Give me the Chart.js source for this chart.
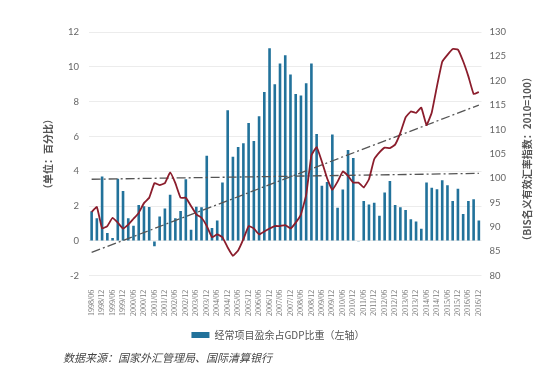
<!DOCTYPE html>
<html>
<head>
<meta charset="utf-8">
<script src="https://cdn.jsdelivr.net/npm/chart.js@4/dist/chart.umd.min.js"></script>
<style>
  body { margin: 0; background: #fff; }
  #wrap { position: relative; width: 560px; height: 374px; }
  #source {
    position: absolute; left: 63px; top: 349px;
    font: italic 11px "Noto Sans CJK SC", sans-serif; color: #444;
  }
</style>
</head>
<body>
<div id="wrap">
  <canvas id="chart" width="560" height="374"></canvas>
  <div id="source">数据来源：国家外汇管理局、国际清算银行</div>
</div>
<script>
// quarterly categories, only /06 and /12 get a label
const quarters = [
  "1998/06", "1998/09", "1998/12",
  "1999/03", "1999/06", "1999/09", "1999/12",
  "2000/03", "2000/06", "2000/09", "2000/12",
  "2001/03", "2001/06", "2001/09", "2001/12",
  "2002/03", "2002/06", "2002/09", "2002/12",
  "2003/03", "2003/06", "2003/09", "2003/12",
  "2004/03", "2004/06", "2004/09", "2004/12",
  "2005/03", "2005/06", "2005/09", "2005/12",
  "2006/03", "2006/06", "2006/09", "2006/12",
  "2007/03", "2007/06", "2007/09", "2007/12",
  "2008/03", "2008/06", "2008/09", "2008/12",
  "2009/03", "2009/06", "2009/09", "2009/12",
  "2010/03", "2010/06", "2010/09", "2010/12",
  "2011/03", "2011/06", "2011/09", "2011/12",
  "2012/03", "2012/06", "2012/09", "2012/12",
  "2013/03", "2013/06", "2013/09", "2013/12",
  "2014/03", "2014/06", "2014/09", "2014/12",
  "2015/03", "2015/06", "2015/09", "2015/12",
  "2016/03", "2016/06", "2016/09", "2016/12"
];

// current account surplus, % of GDP (left axis)
const surplusPct = [
  1.7, 1.3, 3.7,
  0.45, 0.17, 3.57, 2.87,
  1.3, 0.87, 2.06, 2.0,
  1.95, -0.3, 1.4, 1.87,
  2.66, 1.3, 1.72, 3.55,
  0.64, 1.97, 1.93, 4.9,
  0.74, 1.17, 3.36, 7.5,
  4.84, 5.4, 5.61, 6.78,
  5.74, 7.16, 8.55, 11.07,
  9.0, 10.19, 10.66, 9.56,
  8.44, 8.36, 9.05, 10.19,
  6.14, 3.17, 3.38, 6.12,
  1.91, 2.95, 5.22, 4.77,
  -0.05, 2.3, 2.1, 2.2,
  1.45, 2.78, 3.44, 2.06,
  1.93, 1.78, 1.25, 1.12,
  0.7, 3.36, 3.06, 2.97,
  3.48, 3.2, 2.3, 3.0,
  1.55, 2.3, 2.4, 1.17
];

// BIS nominal effective exchange rate, 2010=100 (right axis)
const neer = [
  93.1, 94.1, 89.7,
  90.2, 91.9, 90.9, 89.7,
  90.5, 91.7, 92.9, 94.9,
  96.0, 99.0, 98.6, 99.0,
  101.2, 99.0, 96.0, 96.0,
  94.3, 92.6, 91.9, 90.2,
  87.9, 88.5, 87.9, 85.8,
  84.1, 85.2, 87.5, 90.2,
  89.7, 88.5, 89.1, 89.7,
  90.2, 90.2, 90.4, 89.7,
  90.9, 92.6, 96.6, 104.7,
  106.4, 103.4, 100.0, 97.6,
  99.3, 101.4, 100.5, 99.1,
  99.1, 98.1, 99.8, 103.9,
  105.3, 106.3, 106.2, 106.9,
  109.3, 112.5, 113.7, 113.4,
  114.5, 110.9, 113.5, 118.9,
  123.9, 125.3, 126.5, 126.4,
  124.0, 120.9, 117.3, 117.7
];

// trend lines on right axis: [start, end]
const trendFlat = [99.8, 101.0];
const trendRise = [84.8, 115.0];

const barLabel = "经常项目盈余占GDP比重（左轴）";
const leftTitle = "（单位：百分比）";
const rightTitle = "（BIS名义有效汇率指数：2010=100）";

const cjk = '"Noto Sans CJK SC", sans-serif';
const last = quarters.length - 1;
const endpoints = (pair) => quarters.map((_, i) => (i === 0 ? pair[0] : i === last ? pair[1] : null));

const rightTitlePlugin = {
  id: "rightTitle",
  afterDraw(chart) {
    const { ctx, chartArea } = chart;
    const x = chart.scales.y1.right + 13;
    ctx.save();
    ctx.translate(x, (chartArea.top + chartArea.bottom) / 2 + 5);
    ctx.rotate(-Math.PI / 2);
    ctx.font = "bold 10px " + cjk;
    ctx.fillStyle = "#555";
    ctx.textAlign = "center";
    ctx.textBaseline = "middle";
    ctx.fillText(rightTitle, 0, 0);
    ctx.restore();
  },
};

new Chart(document.getElementById("chart"), {
  data: {
    labels: quarters,
    datasets: [
      {
        type: "bar",
        label: barLabel,
        data: surplusPct,
        yAxisID: "y",
        backgroundColor: "#22729b",
        categoryPercentage: 1,
        barPercentage: 0.5,
        order: 3,
      },
      {
        type: "line",
        label: "BIS",
        data: neer,
        yAxisID: "y1",
        borderColor: "#8b1d2c",
        borderWidth: 1.8,
        pointRadius: 0,
        tension: 0.1,
        order: 1,
      },
      {
        type: "line",
        label: "flat",
        data: endpoints(trendFlat),
        yAxisID: "y1",
        spanGaps: true,
        borderColor: "#555",
        borderWidth: 1.3,
        borderDash: [9, 3, 2, 3],
        pointRadius: 0,
        order: 2,
      },
      {
        type: "line",
        label: "rise",
        data: endpoints(trendRise),
        yAxisID: "y1",
        spanGaps: true,
        borderColor: "#555",
        borderWidth: 1.3,
        borderDash: [9, 3, 2, 3],
        pointRadius: 0,
        order: 2,
      },
    ],
  },
  options: {
    responsive: false,
    animation: false,
    layout: { padding: { left: 42, right: 46, top: 32, bottom: 24 } },
    plugins: {
      tooltip: { enabled: false },
      legend: {
        position: "bottom",
        labels: {
          filter: (item) => item.datasetIndex === 0,
          boxWidth: 18,
          boxHeight: 6,
          color: "#555",
          font: { size: 10, family: cjk },
          padding: 8,
        },
      },
    },
    scales: {
      x: {
        grid: { display: false },
        border: { display: false },
        ticks: {
          autoSkip: false,
          minRotation: 90,
          maxRotation: 90,
          padding: 6,
          color: "#777",
          font: { size: 8, family: '"Liberation Serif", serif' },
          callback: (v, i) => (i % 2 === 0 ? quarters[i] : null),
        },
      },
      y: {
        position: "left",
        min: -2,
        max: 12,
        ticks: { stepSize: 2, color: "#666", padding: 10, font: { size: 9.5, family: "Lato" } },
        grid: { color: "#ececec", drawTicks: false },
        border: { display: false },
        title: {
          display: true,
          text: leftTitle,
          color: "#555",
          font: { size: 10, weight: "bold", family: cjk },
          padding: { top: 0, bottom: 4 },
        },
      },
      y1: {
        position: "right",
        min: 80,
        max: 130,
        ticks: { stepSize: 5, color: "#666", padding: 8, font: { size: 9.5, family: "Lato" } },
        grid: { drawOnChartArea: false, drawTicks: false },
        border: { display: false },
      },
    },
  },
  plugins: [rightTitlePlugin],
});
</script>
</body>
</html>
